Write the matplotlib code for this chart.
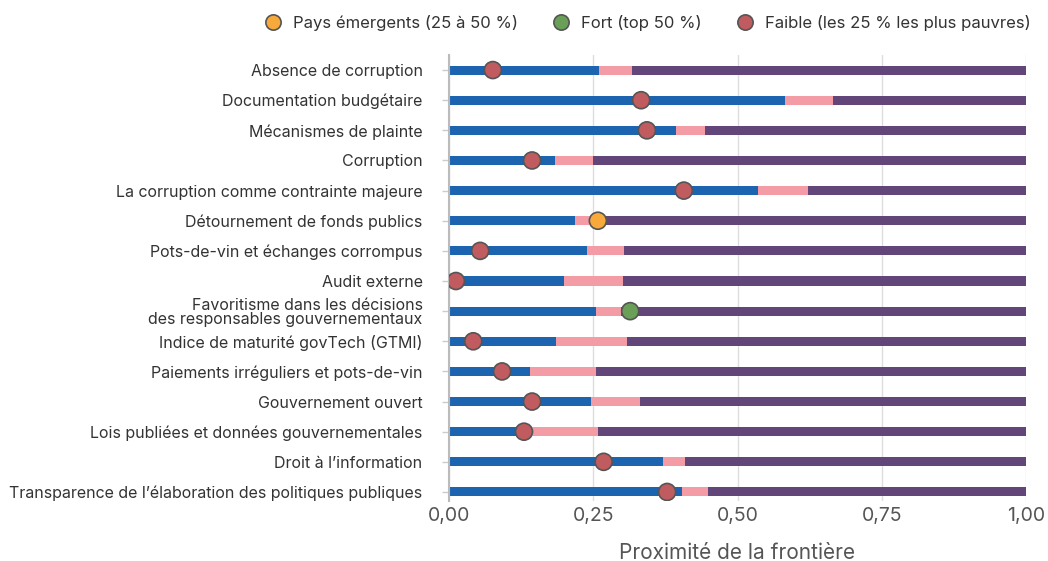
import matplotlib
matplotlib.use("Agg")
import matplotlib.pyplot as plt
from matplotlib.lines import Line2D

plt.rcParams['font.family'] = ['Inter', 'DejaVu Sans']

categories = [
    "Absence de corruption",
    "Documentation budgétaire",
    "Mécanismes de plainte",
    "Corruption",
    "La corruption comme contrainte majeure",
    "Détournement de fonds publics",
    "Pots-de-vin et échanges corrompus",
    "Audit externe",
    "Favoritisme dans les décisions\ndes responsables gouvernementaux",
    "Indice de maturité govTech (GTMI)",
    "Paiements irréguliers et pots-de-vin",
    "Gouvernement ouvert",
    "Lois publiées et données gouvernementales",
    "Droit à l’information",
    "Transparence de l’élaboration des politiques publiques",
]
# end of the blue band (weak), end of the pink band (emerging), rest up to 1 is purple
blue_end = [0.26, 0.582, 0.393, 0.184, 0.536, 0.218, 0.239, 0.199, 0.255, 0.185, 0.14, 0.246, 0.14, 0.371, 0.404]
pink_end = [0.317, 0.666, 0.444, 0.25, 0.622, 0.26, 0.303, 0.302, 0.298, 0.308, 0.255, 0.331, 0.258, 0.409, 0.449]
frontier = 1.0
# country score and its group
score = [0.076, 0.333, 0.343, 0.144, 0.407, 0.258, 0.054, 0.012, 0.314, 0.042, 0.092, 0.144, 0.13, 0.268, 0.378]
group = ["Faible", "Faible", "Faible", "Faible", "Faible", "Emergent", "Faible", "Faible", "Fort",
         "Faible", "Faible", "Faible", "Faible", "Faible", "Faible"]

group_labels = {
    "Emergent": "Pays émergents (25 à 50 %)",
    "Fort": "Fort (top 50 %)",
    "Faible": "Faible (les 25 % les plus pauvres)",
}
group_colors = {"Emergent": "#f7a93b", "Fort": "#6a9f58", "Faible": "#c05b60"}

BLUE = "#1c64b0"
PINK = "#f49ca5"
PURPLE = "#624679"
TEXT = "#333333"

fig = plt.figure(figsize=(10.48, 5.61), dpi=100)
ax = fig.add_axes([449 / 1048, 1 - 501 / 561, (1026 - 449) / 1048, (501 - 55) / 561])

y = list(range(len(categories)))
h = 0.3
pink_w = [p - b for p, b in zip(pink_end, blue_end)]
purple_w = [frontier - p for p in pink_end]
ax.barh(y, blue_end, height=h, color=BLUE, zorder=2)
ax.barh(y, pink_w, left=blue_end, height=h, color=PINK, zorder=2)
ax.barh(y, purple_w, left=pink_end, height=h, color=PURPLE, zorder=2)

ax.scatter(score, y, s=150, c=[group_colors[g] for g in group],
           edgecolors="#555555", linewidths=1.2, zorder=3)

ax.set_xlim(0, 1.0)
ax.set_ylim(14.3, -0.5)
ax.set_yticks(y)
ax.set_yticklabels(categories, fontsize=11.5, color=TEXT, linespacing=0.92)
ax.set_xticks([0, 0.25, 0.5, 0.75, 1.0])
ax.set_xticklabels(["0,00", "0,25", "0,50", "0,75", "1,00"], fontsize=14, color="#555555")
ax.tick_params(axis="x", length=0, pad=4)
ax.tick_params(axis="y", length=5, color="#cccccc", width=1, pad=14)
ax.grid(axis="x", color="#dddddd", linewidth=1, zorder=0)
for s in ["top", "right", "bottom"]:
    ax.spines[s].set_visible(False)
ax.spines["left"].set_color("#bbbbbb")
ax.spines["left"].set_linewidth(1.5)
ax.set_xlabel("Proximité de la frontière", fontsize=15, color="#555555", labelpad=13)

handles = [Line2D([0], [0], marker="o", linestyle="", markersize=11,
                  markerfacecolor=group_colors[k], markeredgecolor="#555555",
                  markeredgewidth=1.2, label=group_labels[k])
           for k in ["Emergent", "Fort", "Faible"]]
fig.legend(handles=handles, loc="upper right", bbox_to_anchor=(0.998, 1.0), ncol=3,
           frameon=False, fontsize=12, handletextpad=0.2, columnspacing=1.6,
           labelcolor=TEXT)

fig.savefig("out.png", dpi=100)
